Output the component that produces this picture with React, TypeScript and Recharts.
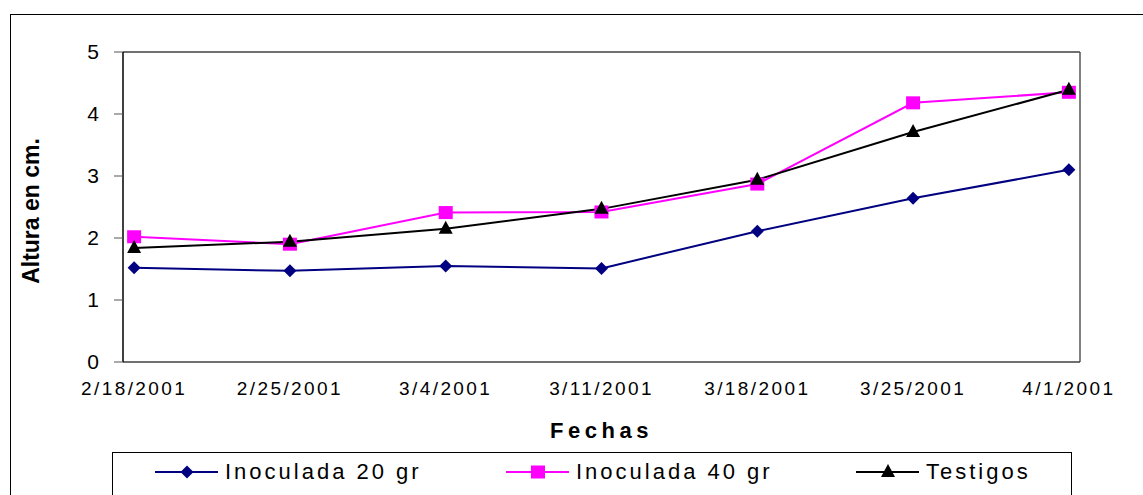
import React from 'react';
import { LineChart, Line, XAxis, YAxis, ReferenceLine } from 'recharts';

const fechas = ['2/18/2001', '2/25/2001', '3/4/2001', '3/11/2001', '3/18/2001', '3/25/2001', '4/1/2001'];
// days since the first reading
const dias = [0, 7, 14, 21, 28, 35, 42];
const inoculada20 = [1.52, 1.47, 1.55, 1.51, 2.11, 2.64, 3.1];
const inoculada40 = [2.02, 1.9, 2.41, 2.42, 2.87, 4.18, 4.35];
const testigos = [1.84, 1.94, 2.15, 2.47, 2.94, 3.71, 4.39];
const alturaTicks = [0, 1, 2, 3, 4, 5];

const FONT = '"Liberation Sans", Arial, sans-serif';

// each reading sits in the middle of its day on the date axis
const data = fechas.map((fecha, i) => ({
  fecha,
  dia: dias[i] + 0.5,
  i20: inoculada20[i],
  i40: inoculada40[i],
  test: testigos[i],
}));

const ultimoDia = dias[dias.length - 1] + 1;

const DiamondDot = ({ cx, cy, fill }: any) => {
  if (cx == null || cy == null) return null;
  return (
    <polygon
      key={`d-${cx}-${cy}`}
      points={`${cx},${cy - 6.5} ${cx + 6.5},${cy} ${cx},${cy + 6.5} ${cx - 6.5},${cy}`}
      fill={fill}
    />
  );
};

const SquareDot = ({ cx, cy, fill }: any) => {
  if (cx == null || cy == null) return null;
  return <rect key={`s-${cx}-${cy}`} x={cx - 7} y={cy - 6.5} width={14} height={13} fill={fill} />;
};

const TriangleDot = ({ cx, cy, fill }: any) => {
  if (cx == null || cy == null) return null;
  return (
    <polygon
      key={`t-${cx}-${cy}`}
      points={`${cx},${cy - 8} ${cx + 7},${cy + 5} ${cx - 7},${cy + 5}`}
      fill={fill}
    />
  );
};

const series = [
  { key: 'i20', name: 'Inoculada 20 gr', color: '#000080', Dot: DiamondDot, left: 42 },
  { key: 'i40', name: 'Inoculada 40 gr', color: '#FF00FF', Dot: SquareDot, left: 393 },
  { key: 'test', name: 'Testigos', color: '#000000', Dot: TriangleDot, left: 743 },
];

const FechaTick = ({ x, y, payload }: any) => {
  const idx = dias.findIndex(d => d + 0.5 === payload.value);
  return (
    <text
      x={x}
      y={y}
      dy="0.71em"
      textAnchor="middle"
      fontSize={19}
      letterSpacing={2.4}
      fill="#000"
      fontFamily={FONT}
    >
      {idx >= 0 ? fechas[idx] : ''}
    </text>
  );
};

const Leyenda = () => (
  <div
    style={{
      position: 'absolute',
      left: 112,
      top: 452,
      width: 958,
      height: 60,
      border: '1px solid #000',
      background: '#fff',
      fontFamily: FONT,
    }}
  >
    {series.map(s => (
      <div key={s.key} style={{ position: 'absolute', left: s.left, top: 4, display: 'flex', alignItems: 'center' }}>
        <svg width={64} height={30}>
          <line x1={0} y1={15} x2={63} y2={15} stroke={s.color} strokeWidth={2} />
          <s.Dot cx={32} cy={15} fill={s.color} />
        </svg>
        <span style={{ fontSize: 22, letterSpacing: 3, marginLeft: 6, color: '#000', lineHeight: '30px' }}>{s.name}</span>
      </div>
    ))}
  </div>
);

export default function App() {
  return (
    <div style={{ position: 'absolute', left: 0, top: 0, width: 1143, height: 495, background: '#fff', overflow: 'hidden' }}>
      <div
        style={{
          position: 'absolute',
          left: 10,
          top: 14,
          width: 1200,
          height: 600,
          borderLeft: '1px solid #000',
          borderTop: '1px solid #000',
        }}
      />
      <div style={{ position: 'absolute', left: 0, top: 0 }}>
        <LineChart
          width={1143}
          height={495}
          data={data}
          margin={{ top: 52, right: 63, bottom: 42, left: 0 }}
          style={{ fontFamily: FONT }}
        >
          <XAxis
            xAxisId="dias"
            type="number"
            dataKey="dia"
            domain={[0, ultimoDia]}
            ticks={dias}
            height={1}
            tick={false}
            tickSize={6}
            stroke="#404040"
            axisLine={{ stroke: '#404040', strokeWidth: 1.5 }}
            tickLine={{ stroke: '#404040' }}
          />
          <XAxis
            xAxisId="etiquetas"
            type="number"
            dataKey="dia"
            domain={[0, ultimoDia]}
            ticks={dias.map(d => d + 0.5)}
            height={90}
            axisLine={false}
            tickLine={false}
            tickSize={0}
            tickMargin={19}
            tick={<FechaTick />}
            label={{
              content: ({ viewBox }: any) => (
                <text
                  x={viewBox.x + viewBox.width / 2}
                  y={438}
                  textAnchor="middle"
                  fontSize={22}
                  fontWeight="bold"
                  letterSpacing={4.5}
                  fill="#000"
                  fontFamily={FONT}
                >
                  Fechas
                </text>
              ),
            }}
          />
          <YAxis
            type="number"
            domain={[0, 5]}
            ticks={alturaTicks}
            width={123}
            tickSize={9}
            tickMargin={15}
            tick={{ fontSize: 21, fill: '#000' }}
            axisLine={{ stroke: '#000', strokeWidth: 1.5 }}
            tickLine={{ stroke: '#555' }}
            label={{
              content: () => (
                <text
                  x={31}
                  y={211}
                  transform="rotate(-90 31 211)"
                  textAnchor="middle"
                  dominantBaseline="central"
                  fontSize={23}
                  fontWeight="bold"
                  fill="#000"
                  fontFamily={FONT}
                >
                  Altura en cm.
                </text>
              ),
            }}
          />
          <ReferenceLine xAxisId="dias" y={5} stroke="#404040" strokeWidth={1.5} />
          <ReferenceLine xAxisId="dias" x={ultimoDia} stroke="#555" strokeWidth={1.5} />
          {series.map(s => (
            <Line
              key={s.key}
              xAxisId="dias"
              type="linear"
              dataKey={s.key}
              name={s.name}
              stroke={s.color}
              strokeWidth={2}
              dot={<s.Dot fill={s.color} />}
              activeDot={false}
              isAnimationActive={false}
            />
          ))}
        </LineChart>
      </div>
      <Leyenda />
    </div>
  );
}
